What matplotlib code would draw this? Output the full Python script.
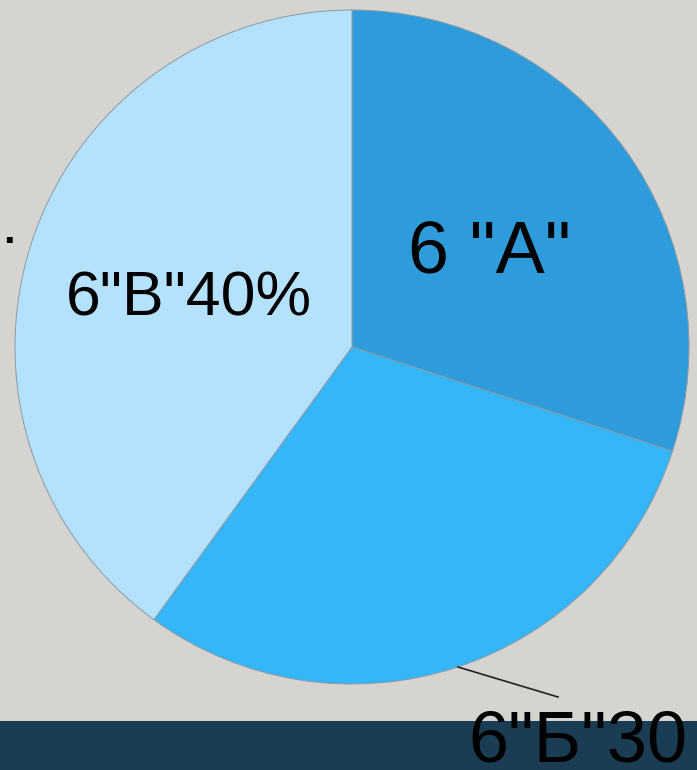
import matplotlib
matplotlib.use("Agg")
from matplotlib import pyplot as plt

# classes and their shares
labels = ['6 "A"', '6"Б"30', '6"В"40%']
shares = [30, 30, 40]
colors = ['#2E9CDA', '#35B6F9', '#B4E2FD']

W, H = 697, 770

plt.rcParams['font.family'] = ['Liberation Sans', 'DejaVu Sans']

fig = plt.figure(figsize=(W / 100, H / 100), dpi=100)
fig.patch.set_facecolor('#D6D4D0')
ax = fig.add_axes([0, 0, 1, 1])
ax.set_xlim(0, W)
ax.set_ylim(0, H)
ax.set_aspect('equal')
ax.axis('off')


def Y(y):
    # pixel row from the top -> data y
    return H - y


# dark strip at the bottom
ax.add_patch(plt.Rectangle((0, 0), W, H - 721, facecolor='#1B3D54',
                           edgecolor='none', zorder=0))

ax.pie(shares, colors=colors, startangle=90, counterclock=False,
       center=(352, Y(347)), radius=337, frame=True,
       wedgeprops=dict(edgecolor='#8a9aa5', linewidth=0.7))
ax.set_xlim(0, W)
ax.set_ylim(0, H)
ax.axis('off')

ax.text(408, Y(273), labels[0], fontsize=53, ha='left', va='baseline', zorder=5)
ax.text(66, Y(315), labels[2], fontsize=45, ha='left', va='baseline', zorder=5)
ax.text(468, Y(762), labels[1], fontsize=52, ha='left', va='baseline', zorder=5)
ax.plot([458, 558], [Y(667), Y(697)], color='#222222', linewidth=1.2, zorder=5)
ax.text(3, Y(243), '.', fontsize=30, ha='left', va='baseline', fontweight='bold')

fig.savefig('out.png', dpi=100, facecolor=fig.get_facecolor())
